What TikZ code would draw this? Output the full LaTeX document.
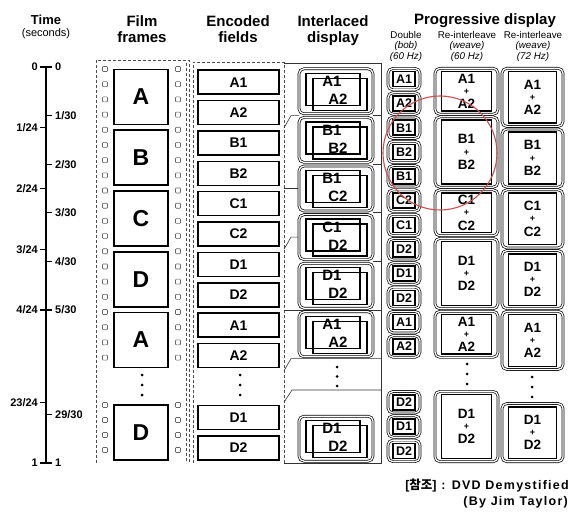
\documentclass[tikz,border=0pt]{standalone}
\usepackage{fontspec}
\setmainfont{Liberation Sans}
\newfontfamily\kofont{Noto Sans CJK KR}
\newcommand{\pxsize}[1]{\fontsize{#1}{#1}\selectfont}
\definecolor{circred}{RGB}{205,80,80}

\begin{document}
\begin{tikzpicture}[x=1pt,y=-1pt,
  head/.style={font=\bfseries\pxsize{15}, anchor=base, inner sep=0pt},
  subhead/.style={font=\pxsize{9.8}, anchor=base, inner sep=0pt},
  tlabel/.style={font=\bfseries\pxsize{11}, inner sep=0pt},
  filmframe/.style={draw, line width=1.6pt, minimum width=54pt, minimum height=55pt, inner sep=0pt, font=\bfseries\pxsize{23}},
  encfield/.style={draw, line width=1.5pt, minimum width=81pt, minimum height=24pt, inner sep=0pt, font=\bfseries\pxsize{14}},
  roundbox/.style={draw, rounded corners=5pt, double, double distance=1.3pt, line width=0.7pt, inner sep=0pt},
  bobcell/.style={draw, line width=1.5pt, minimum width=22pt, minimum height=15pt, inner sep=0pt, font=\bfseries\pxsize{12.5}},
  weave/.style={draw, line width=1.5pt, inner sep=0pt},
  wtext/.style={anchor=base, inner sep=0pt, font=\bfseries\pxsize{13.5}},
  wplus/.style={anchor=base, inner sep=0pt, font=\bfseries\pxsize{9}},
  ilabel/.style={inner sep=0pt, font=\bfseries\pxsize{15}},
  hole/.style={draw=black!60, line width=0.6pt, rounded corners=0.8pt},
  strip/.style={black!70, line width=0.6pt, densely dashed},
  guide/.style={black!80, line width=0.6pt}
]

  \useasboundingbox (0,0) rectangle (581,513);

  % Headings
  \node[head, font=\bfseries\pxsize{13}] (hTime) at (46,25) {Time};
  \node[subhead, font=\pxsize{11}] (hSec) at (46,37) {(seconds)};
  \node[head] (hFilmA) at (142,27) {Film};
  \node[head] (hFilmB) at (142,43) {frames};
  \node[head] (hEncA) at (238,27) {Encoded};
  \node[head] (hEncB) at (238,43) {fields};
  \node[head] (hIntA) at (333,27) {Interlaced};
  \node[head] (hIntB) at (333,43) {display};
  \node[head] (hProg) at (485,25) {Progressive display};
  \node[subhead] (hBobA) at (406,38.5) {Double};
  \node[subhead] (hBobB) at (406,49) {\itshape(bob)};
  \node[subhead] (hBobC) at (406,60) {\itshape(60 Hz)};
  \node[subhead] (hW60A) at (467,38.5) {Re-interleave};
  \node[subhead] (hW60B) at (467,49) {\itshape(weave)};
  \node[subhead] (hW60C) at (467,60) {\itshape(60 Hz)};
  \node[subhead] (hW72A) at (533,38.5) {Re-interleave};
  \node[subhead] (hW72B) at (533,49) {\itshape(weave)};
  \node[subhead] (hW72C) at (533,60) {\itshape(72 Hz)};

  % Time axis
  \coordinate (T0) at (46,67);
  \coordinate (T1) at (46,463);
  \draw[line width=1.3pt] (T0) -- (T1);
  \foreach \k in {1,...,4} {
    \draw[line width=1.1pt] (40,67+60.75*\k) -- (46,67+60.75*\k);
    \node[tlabel, anchor=east] (tl\k) at (38,67+60.75*\k) {\k/24};
  }
  \foreach \k in {1,...,5} {
    \draw[line width=1.1pt] (46,67+48.6*\k) -- (52,67+48.6*\k);
    \node[tlabel, anchor=west] (tr\k) at (55,67+48.6*\k) {\k/30};
  }
  \draw[line width=1.1pt] (40,67) -- (52,67);
  \node[tlabel, anchor=east] (tl0) at (38,67) {0};
  \node[tlabel, anchor=west] (tr0) at (55,67) {0};
  \draw[line width=1.1pt] (40,402.25) -- (46,402.25);
  \node[tlabel, anchor=east] (tly) at (38,402.25) {23/24};
  \draw[line width=1.1pt] (46,414.4) -- (52,414.4);
  \node[tlabel, anchor=west] (try) at (55,414.4) {29/30};
  \draw[line width=1.1pt] (40,463) -- (52,463);
  \node[tlabel, anchor=east] (tlz) at (38,463) {1};
  \node[tlabel, anchor=west] (trz) at (55,463) {1};

  % Film strip
  \draw[strip] (96,463) -- (96,60) -- (189,60) -- (189,463);
  \draw[strip] (186,63) -- (186,463);
  \foreach \k in {0,...,19} {
    \draw[hole] (102.5,66.5+15.19*\k) rectangle (107.5,71.5+15.19*\k);
    \draw[hole] (175.5,66.5+15.19*\k) rectangle (180.5,71.5+15.19*\k);
  }
  \foreach \y in {405,420,435,450} {
    \draw[hole] (102.5,\y-2.5) rectangle (107.5,\y+2.5);
    \draw[hole] (175.5,\y-2.5) rectangle (180.5,\y+2.5);
  }
  \foreach \lbl [count=\i from 0] in {A,B,C,D,A}
    \node[filmframe] (ff\i) at (141,97+60.75*\i) {\lbl};
  \node[filmframe] (ffz) at (141,432.5) {D};

  % Encoded fields
  \draw[strip] (193,463) -- (193,62) -- (284,62) -- (284,463);
  \foreach \lbl [count=\i from 0] in {A1,A2,B1,B2,C1,C2,D1,D2,A1,A2}
    \node[encfield] (ef\i) at (238.5,82.2+30.375*\i) {\lbl};
  \node[encfield] (efy) at (238.5,417.4) {D1};
  \node[encfield] (efz) at (238.5,447.8) {D2};

  % Field to frame guides
  \coordinate (g0) at (284,63);
  \coordinate (g1) at (381,63);
  \coordinate (g2) at (381,463);
  \coordinate (g3) at (284,463);
  \draw[guide] (g0) -- (g1) -- (g2) -- (g3);
  \draw[guide] (284,127.75) -- (291,115.6) -- (299,115.6);
  \draw[guide] (284,188.5) -- (299,188.5);
  \draw[guide] (284,249.25) -- (291,237.1) -- (299,237.1);
  \draw[guide] (284,310) -- (381,310);
  \draw[guide] (284,370.75) -- (291,358.6) -- (381,358.6);
  \draw[guide] (284,402.25) -- (292,390) -- (381,390);
  \foreach \y in {115.6,164.2,212.8,261.4}
    \draw[guide] (373,\y) -- (381,\y);

  % Interlaced display
  \foreach \yc/\ta/\tb [count=\i] in {91.3/A1/A2, 139.9/B1/B2, 188.5/B1/C2, 237.1/C1/D2, 285.7/D1/D2, 334.3/A1/A2, 438.7/D1/D2} {
    \node[roundbox, minimum width=74pt, minimum height=45pt] (il\i) at (336,\yc) {};
    \draw[line width=1.3pt] (306,\yc-18) rectangle (360,\yc+14);
    \draw[line width=1.3pt] (313,\yc-13) rectangle (367,\yc+19);
    \node[ilabel] (ila\i) at (332,\yc-10) {\ta};
    \node[ilabel] (ilb\i) at (338,\yc+8) {\tb};
  }

  % Double (bob)
  \foreach \lbl [count=\i from 0] in {A1,A2,B1,B2,B1,C2,C1,D2,D1,D2,A1,A2} {
    \node[roundbox, minimum width=32pt, minimum height=21.5pt] (bob\i) at (404,79.15+24.3*\i) {};
    \node[bobcell] (bobl\i) at (bob\i) {\lbl};
  }
  \foreach \lbl [count=\i from 0] in {D2,D1,D2} {
    \node[roundbox, minimum width=32pt, minimum height=21.5pt] (bobz\i) at (404,402.25+24.3*\i) {};
    \node[bobcell] (bobzl\i) at (bobz\i) {\lbl};
  }

  % Re-interleave 60 Hz
  \foreach \ya/\yb/\frm [count=\i] in {67/115.6/A, 115.6/188.5/B, 188.5/237.1/C, 237.1/310/D, 310/358.6/A, 390.1/463/D} {
    \node[roundbox, minimum width=63pt, minimum height={(\yb-\ya-2.5)*1pt}] (wa\i) at (466.5,{(\ya+\yb)/2}) {};
    \node[weave, minimum width=50pt, minimum height={(\yb-\ya-9)*1pt}] (wal\i) at (wa\i) {};
    \node[wtext] (wat\i) at (466.5,{(\ya+\yb)/2-8.2}) {\frm1};
    \node[wplus] (wap\i) at (466.5,{(\ya+\yb)/2+3}) {+};
    \node[wtext] (wab\i) at (466.5,{(\ya+\yb)/2+17.2}) {\frm2};
  }

  % Re-interleave 72 Hz
  \foreach \ya/\yb/\frm [count=\i] in {67/127.75/A, 127.75/188.5/B, 188.5/249.25/C, 249.25/310/D, 310/370.75/A, 402.25/463/D} {
    \node[roundbox, minimum width=61pt, minimum height={(\yb-\ya-2.5)*1pt}] (wb\i) at (532.5,{(\ya+\yb)/2}) {};
    \node[weave, minimum width=48pt, minimum height={(\yb-\ya-9)*1pt}] (wbl\i) at (wb\i) {};
    \node[wtext] (wbt\i) at (532.5,{(\ya+\yb)/2-8.2}) {\frm1};
    \node[wplus] (wbp\i) at (532.5,{(\ya+\yb)/2+3}) {+};
    \node[wtext] (wbb\i) at (532.5,{(\ya+\yb)/2+17.2}) {\frm2};
  }

  % Gaps
  \foreach \y in {375,385,395} {
    \fill (142,\y) circle (1.5pt);
    \fill (240,\y) circle (1.5pt);
  }
  \foreach \y in {367,376.5,386} \fill (337,\y) circle (1.5pt);
  \foreach \y in {364,374,384} \fill (467,\y) circle (1.5pt);
  \foreach \y in {377,387,397} \fill (532,\y) circle (1.5pt);

  % Highlight
  \draw[circred, line width=1.1pt] (440,153) circle (57pt);

  % Source
  \node[font=\bfseries\pxsize{12.5}, anchor=base east, inner sep=0pt] (src) at (569,489)
    {\addfontfeature{LetterSpace=10}[{\kofont 참조}] : DVD Demystified};
  \node[font=\bfseries\pxsize{12.5}, anchor=base east, inner sep=0pt] (auth) at (568,505)
    {\addfontfeature{LetterSpace=10}(By Jim Taylor)};

\end{tikzpicture}
\end{document}
